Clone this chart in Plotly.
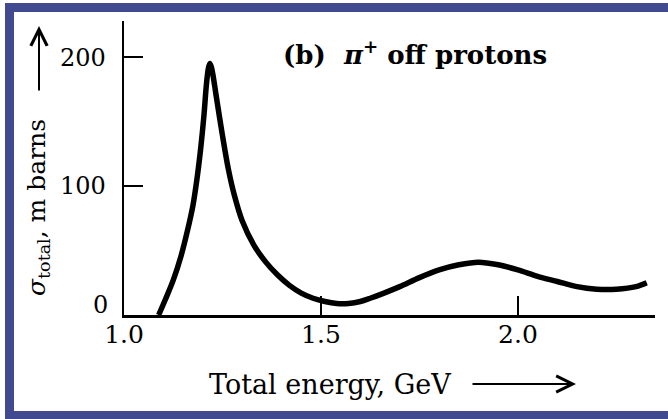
import plotly.graph_objects as go

# ---- data ----
energy_gev = [1.088, 1.105, 1.125, 1.145, 1.160, 1.175, 1.185, 1.195, 1.203, 1.209,
              1.214, 1.218, 1.222, 1.227, 1.233, 1.249, 1.265, 1.280, 1.300, 1.330,
              1.360, 1.390, 1.420, 1.450, 1.480, 1.510, 1.540, 1.570, 1.600, 1.625,
              1.660, 1.700, 1.750, 1.800, 1.850, 1.900, 1.950, 2.000, 2.050, 2.100,
              2.150, 2.200, 2.250, 2.300, 2.327]
sigma_mb = [0, 12, 27, 46, 64, 85, 105, 130, 155, 178,
            191, 195, 192, 184, 172, 141, 113, 93, 73, 54,
            41, 31, 23, 17, 13, 10.5, 9, 9, 10.5, 13,
            17, 22, 29, 35, 39, 41, 39, 35, 30, 26,
            22, 20, 20, 22, 25]

x_tick_vals = [1.0, 1.5, 2.0]
x_tick_text = ["1.0", "1.5", "2.0"]
y_tick_vals = [100, 200]
y_tick_text = ["100", "200"]
zero_label = "0"

title_text = "(b)  <i>π</i><sup>+</sup> off protons"
x_title = "Total energy, GeV"
y_title = "<i>σ</i><sub>total</sub>, m barns"

# ---- layout geometry (pixels) ----
W, H = 668, 419
L, R, T, B = 124, 655, 21, 315


def px(x):
    return (x - L) / (R - L)


def py(y):
    return (B - y) / (B - T)


SERIF = "DejaVu Serif"
NAVY = "#414a8e"

fig = go.Figure()
fig.add_trace(go.Scatter(
    x=energy_gev, y=sigma_mb, mode="lines",
    line=dict(color="black", width=5.5, shape="spline", smoothing=0.9),
    hoverinfo="skip", showlegend=False,
))

fig.update_layout(
    width=W, height=H,
    margin=dict(l=L, r=W - R, t=T, b=H - B, pad=0),
    paper_bgcolor="white", plot_bgcolor="white",
    showlegend=False,
    xaxis=dict(
        range=[1.0, 2.348], showgrid=False, zeroline=False,
        showline=True, linecolor="black", linewidth=2.5,
        ticks="inside", ticklen=19, tickwidth=2.5, tickcolor="black",
        tickvals=x_tick_vals, ticktext=x_tick_text,
        tickfont=dict(family=SERIF, size=25, color="black"),
        ticklabelstandoff=-5,
    ),
    yaxis=dict(
        range=[0, 228], showgrid=False, zeroline=False,
        showline=True, linecolor="black", linewidth=2.5,
        ticks="inside", ticklen=19, tickwidth=2.5, tickcolor="black",
        tickvals=y_tick_vals, ticktext=y_tick_text,
        tickfont=dict(family=SERIF, size=24, color="black"),
        ticklabelstandoff=11,
    ),
)

annotations = [
    dict(text=title_text, x=px(415), y=py(53), xref="paper", yref="paper",
         xanchor="center", yanchor="middle", showarrow=False,
         font=dict(family=SERIF, size=26, color="black", weight="bold")),
    dict(text=x_title, x=px(330), y=py(384), xref="paper", yref="paper",
         xanchor="center", yanchor="middle", showarrow=False,
         font=dict(family=SERIF, size=27, color="black")),
    dict(text="", x=px(576), y=py(384), xref="paper", yref="paper",
         showarrow=True, ax=-105, ay=0, axref="pixel", ayref="pixel",
         arrowhead=5, arrowsize=1.6, arrowwidth=2, arrowcolor="black", standoff=0),
    dict(text=y_title, x=px(38), y=py(208), xref="paper", yref="paper",
         xanchor="center", yanchor="middle", showarrow=False, textangle=-90,
         font=dict(family=SERIF, size=25, color="black")),
    dict(text="", x=px(39), y=py(26), xref="paper", yref="paper",
         showarrow=True, ax=0, ay=66, axref="pixel", ayref="pixel",
         arrowhead=5, arrowsize=1.6, arrowwidth=2, arrowcolor="black", standoff=0),
    dict(text=zero_label, x=px(110), y=py(305), xref="paper", yref="paper",
         xanchor="right", yanchor="middle", showarrow=False,
         font=dict(family=SERIF, size=24, color="black")),
]
fig.update_layout(annotations=annotations)

# navy frame bands
shapes = [
    dict(type="rect", xref="paper", yref="paper", layer="above",
         x0=px(5), x1=px(W + 2), y0=py(12), y1=py(3),
         fillcolor=NAVY, line=dict(width=0)),
    dict(type="rect", xref="paper", yref="paper", layer="above",
         x0=px(5), x1=px(14), y0=py(H + 2), y1=py(3),
         fillcolor=NAVY, line=dict(width=0)),
    dict(type="rect", xref="paper", yref="paper", layer="above",
         x0=px(5), x1=px(W + 2), y0=py(H + 2), y1=py(411),
         fillcolor=NAVY, line=dict(width=0)),
]
fig.update_layout(shapes=shapes)

fig.write_html("out.html",
               config={"displayModeBar": False, "staticPlot": True},
               post_script="document.body.style.margin='0';"
                           "document.body.style.overflow='hidden';")
